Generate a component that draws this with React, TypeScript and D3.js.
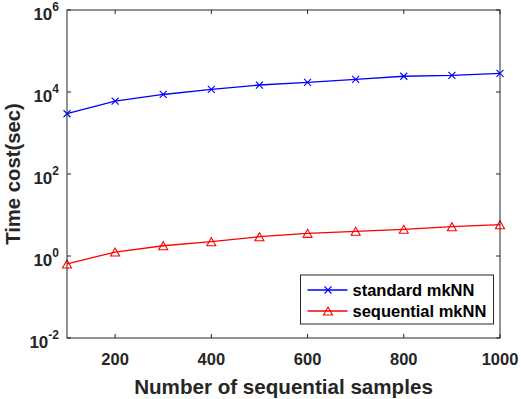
import React from "react";
import * as d3 from "d3";

const samples = [100, 200, 300, 400, 500, 600, 700, 800, 900, 1000];
const standardCost = [2950, 6000, 8700, 11600, 14800, 17250, 20400, 24200, 25500, 28600];
const sequentialCost = [0.64, 1.25, 1.78, 2.23, 2.96, 3.57, 4.0, 4.48, 5.19, 5.8];
const xTicks = [200, 400, 600, 800, 1000];
const yTickExps = [-2, 0, 2, 4, 6];
const seriesNames = ["standard mkNN", "sequential mkNN"];

const W = 521, H = 399;
const L = 67, R = 500, T = 10, B = 338;
const AX = "#262626";
const FONT = "'Liberation Sans', Arial, Helvetica, sans-serif";

export default function App() {
  const x = d3.scaleLinear().domain([100, 1000]).range([L, R]);
  const y = d3.scaleLog().domain([1e-2, 1e6]).range([B, T]);
  const line = d3
    .line<[number, number]>()
    .x((d) => x(d[0]))
    .y((d) => y(d[1]));
  const stdPts: [number, number][] = samples.map((s, i) => [s, standardCost[i]]);
  const seqPts: [number, number][] = samples.map((s, i) => [s, sequentialCost[i]]);

  const xMark = (cx: number, cy: number, color: string, key: any) => (
    <path
      key={key}
      d={`M${cx - 3.5},${cy - 3.5}L${cx + 3.5},${cy + 3.5}M${cx - 3.5},${cy + 3.5}L${cx + 3.5},${cy - 3.5}`}
      stroke={color}
      strokeWidth={1.1}
      fill="none"
    />
  );
  const triMark = (cx: number, cy: number, color: string, key: any) => (
    <path
      key={key}
      d={`M${cx},${cy - 4}L${cx + 4.5},${cy + 4}L${cx - 4.5},${cy + 4}Z`}
      stroke={color}
      strokeWidth={1.1}
      fill="none"
    />
  );

  const tl = 4;
  const legX = 300.5, legY = 275, legW = 193, legH = 49;
  const rows = [290, 311];

  return (
    <svg
      width={W}
      height={H}
      style={{ position: "absolute", left: 0, top: 0, background: "#fff" }}
      fontFamily={FONT}
    >
      <rect x={0} y={0} width={W} height={H} fill="#fff" />
      <rect x={L} y={T} width={R - L} height={B - T} fill="#fff" stroke="none" />

      {/* series */}
      <path d={line(stdPts) || ""} stroke="#0000ff" strokeWidth={1.3} fill="none" />
      {stdPts.map((p, i) => xMark(x(p[0]), y(p[1]), "#0000ff", "s" + i))}
      <path d={line(seqPts) || ""} stroke="#ff0000" strokeWidth={1.3} fill="none" />
      {seqPts.map((p, i) => triMark(x(p[0]), y(p[1]), "#ff0000", "q" + i))}

      {/* axes box */}
      <rect x={L} y={T} width={R - L} height={B - T} fill="none" stroke={AX} strokeWidth={1} />

      {/* x ticks */}
      {xTicks.map((t) => (
        <g key={"xt" + t}>
          <line x1={x(t)} x2={x(t)} y1={B} y2={B - tl} stroke={AX} />
          <line x1={x(t)} x2={x(t)} y1={T} y2={T + tl} stroke={AX} />
          <text
            x={x(t)}
            y={365}
            textAnchor="middle"
            fontSize={16.5}
            fontWeight="bold"
            fill={AX}
          >
            {t}
          </text>
        </g>
      ))}

      {/* y ticks */}
      {yTickExps.map((e) => {
        const yy = y(Math.pow(10, e));
        return (
          <g key={"yt" + e}>
            <line x1={L} x2={L + tl} y1={yy} y2={yy} stroke={AX} />
            <line x1={R} x2={R - tl} y1={yy} y2={yy} stroke={AX} />
            <text x={59} y={yy + 9.5} textAnchor="end" fontWeight="bold" fill={AX} fontSize={17}>
              <tspan>10</tspan>
              <tspan dy={-8.5} fontSize={12}>
                {e}
              </tspan>
            </text>
          </g>
        );
      })}

      {/* axis labels */}
      <text
        x={(L + R) / 2}
        y={394}
        textAnchor="middle"
        fontSize={20.6}
        fontWeight="bold"
        fill={AX}
      >
        Number of sequential samples
      </text>
      <text
        transform={`translate(20,${(T + B) / 2}) rotate(-90)`}
        textAnchor="middle"
        fontSize={20.3}
        fontWeight="bold"
        fill={AX}
      >
        Time cost(sec)
      </text>

      {/* legend */}
      <rect x={legX} y={legY} width={legW} height={legH} fill="#fff" stroke={AX} strokeWidth={1} />
      {seriesNames.map((name, i) => {
        const color = i === 0 ? "#0000ff" : "#ff0000";
        const ry = rows[i];
        return (
          <g key={"lg" + i}>
            <line x1={307.5} x2={347.5} y1={ry} y2={ry} stroke={color} strokeWidth={1.3} />
            {i === 0 ? xMark(328, ry, color, "lx") : triMark(328, ry, color, "lt")}
            <text x={352.5} y={ry + 6} fontSize={16.5} fontWeight="bold" fill="#000">
              {name}
            </text>
          </g>
        );
      })}
    </svg>
  );
}
